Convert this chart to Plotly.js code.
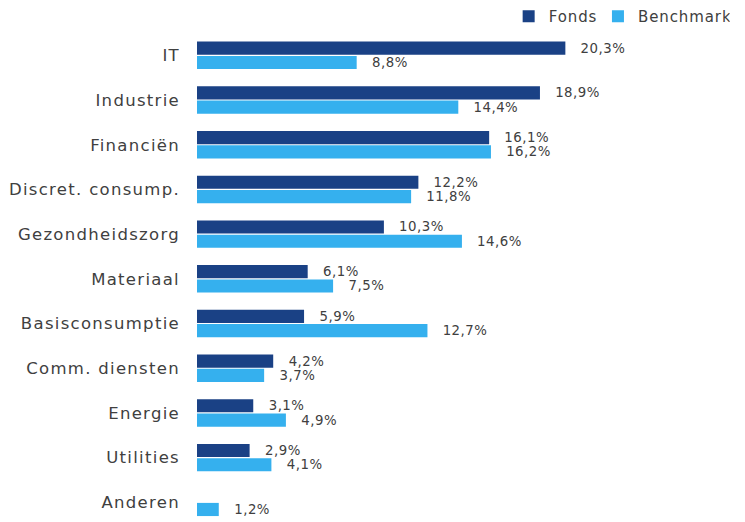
<!DOCTYPE html>
<html>
<head>
<meta charset="utf-8">
<script src="https://cdn.plot.ly/plotly-3.0.1.min.js"></script>
<style>
html,body{margin:0;padding:0;background:#fff;}
#chart{width:745px;height:522px;}
#chart .ytick text{letter-spacing:1.3px;}
#chart .legendtext{letter-spacing:0.9px;}
#chart .bartext text, #chart text.bartext{letter-spacing:0.5px;}
</style>
</head>
<body>
<div id="chart"></div>
<script>
var categories = ["IT","Industrie","Financiën","Discret. consump.","Gezondheidszorg","Materiaal","Basisconsumptie","Comm. diensten","Energie","Utilities","Anderen"];
var fonds = [20.3,18.9,16.1,12.2,10.3,6.1,5.9,4.2,3.1,2.9,null];
var benchmark = [8.8,14.4,16.2,11.8,14.6,7.5,12.7,3.7,4.9,4.1,1.2];

function fmt(v){ return v==null ? "" : "\u00a0\u00a0\u00a0" + v.toFixed(1).replace(".", ",") + "%"; }

var textFont = {family:"DejaVu Sans, sans-serif", size:13.3, color:"#404040"};

var traces = [
  {type:"bar", orientation:"h", name:"Fonds", y:categories, x:fonds, marker:{color:"#1a4185"},
   text:fonds.map(fmt), textposition:"outside", constraintext:"none", textfont:textFont, cliponaxis:false, hoverinfo:"skip"},
  {type:"bar", orientation:"h", name:"Benchmark", y:categories, x:benchmark, marker:{color:"#35b0ee"},
   text:benchmark.map(fmt), textposition:"outside", constraintext:"none", textfont:textFont, cliponaxis:false, hoverinfo:"skip"}
];

var layout = {
  width:745, height:522,
  margin:{l:197, r:0, t:33, b:0},
  paper_bgcolor:"#fff", plot_bgcolor:"#fff",
  barmode:"group", bargap:0.36, bargroupgap:0.08,
  font:{family:"DejaVu Sans, sans-serif", color:"#404040"},
  xaxis:{range:[0,30.2], visible:false, showgrid:false, zeroline:false, fixedrange:true},
  yaxis:{type:"category", range:[10.44,-0.5], showgrid:false, zeroline:false, showline:false, ticks:"",
         ticklabelstandoff:16, tickfont:{family:"DejaVu Sans, sans-serif", size:16.5, color:"#404040"}},
  showlegend:true,
  legend:{orientation:"h", x:0.972, xanchor:"right", y:1.0, yanchor:"bottom", font:{size:15, color:"#404040"},
          itemwidth:30, traceorder:"normal"}
};

Plotly.newPlot("chart", traces, layout, {displayModeBar:false, staticPlot:true});
</script>
</body>
</html>
